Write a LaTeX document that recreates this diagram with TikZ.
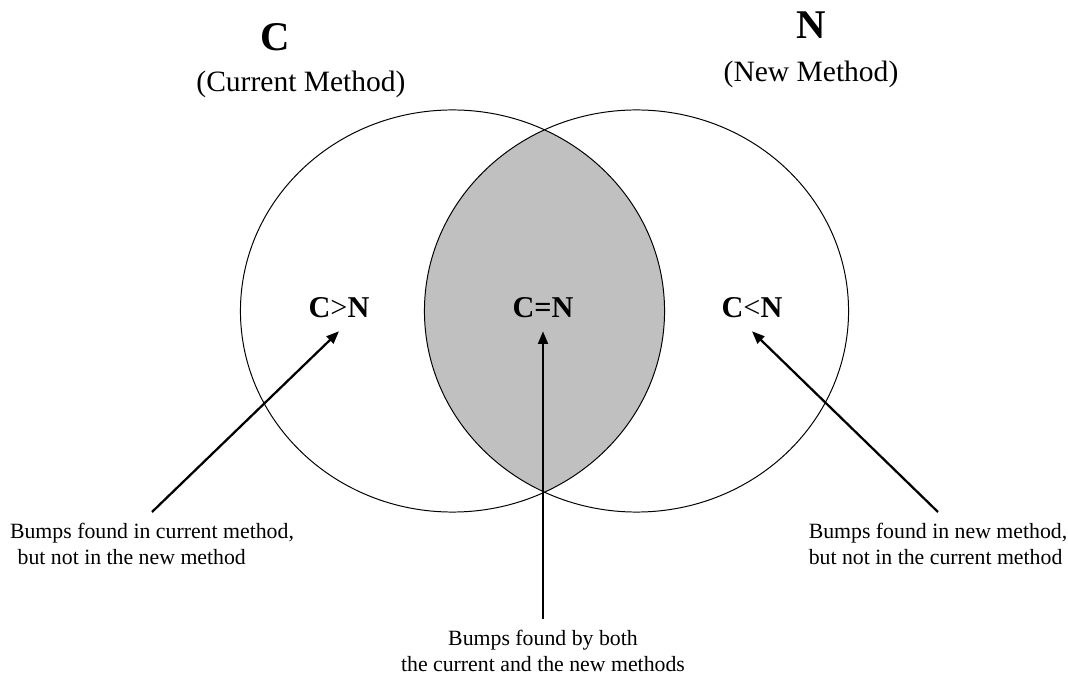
\documentclass[tikz,border=0pt]{standalone}
\usepackage{fontspec}
\setmainfont{Liberation Serif}
\usepackage{xcolor}
\usetikzlibrary{arrows.meta}
\definecolor{lapgray}{HTML}{C0C0C0}
\definecolor{ink}{HTML}{000000}

\begin{document}
\begin{tikzpicture}[x=0.025cm,y=-0.025cm,every node/.style={text=ink},
  ttl/.style={font=\fontsize{29}{34}\selectfont\bfseries,anchor=base},
  sub/.style={font=\fontsize{21}{25}\selectfont,anchor=base},
  lbl/.style={font=\fontsize{21.5}{25}\selectfont\bfseries,outer sep=6pt},
  nt/.style={font=\fontsize{15.5}{18.5}\selectfont,anchor=north,outer sep=4.5pt},
  e/.style={-{Triangle[length=9pt,width=7pt]},line width=1.6pt,draw=ink},
  ring/.style={draw=ink,line width=0.7pt}]
  \useasboundingbox (0,0) rectangle (1068,675);
  % overlap of both methods
  \begin{scope}
    \clip (452.5,311) ellipse [x radius=5.3cm,y radius=5.025cm];
    \fill[lapgray] (636.5,311) ellipse [x radius=5.3cm,y radius=5.025cm];
  \end{scope}
  \draw[ring] (452.5,311) ellipse [x radius=5.3cm,y radius=5.025cm];
  \draw[ring] (636.5,311) ellipse [x radius=5.3cm,y radius=5.025cm];
  % titles
  \node[ttl] (tc) at (275,51) {C};
  \node[sub] (sc) at (301,92) {(Current Method)};
  \node[ttl] (tn) at (811,39) {N};
  \node[sub] (sn) at (811,82) {(New Method)};
  % regions
  \node[lbl] (gt) at (339,308) {C{\mdseries >}N};
  \node[lbl] (eq) at (543,308) {C=N};
  \node[lbl] (lt) at (752,308) {C{\mdseries <}N};
  % notes
  \node[nt,align=left] (nl) at (152,512) {Bumps found in current method,\\\hspace*{0.35em}but not in the new method};
  \node[nt,align=center] (nm) at (543,619) {Bumps found by both\\the current and the new methods};
  \node[nt,align=left] (nr) at (938,512) {Bumps found in new method,\\but not in the current method};
  \draw[e] (nl.north) -- (gt.south);
  \draw[e] (nm.north) -- (eq.south);
  \draw[e] (nr.north) -- (lt.south);
\end{tikzpicture}
\end{document}
